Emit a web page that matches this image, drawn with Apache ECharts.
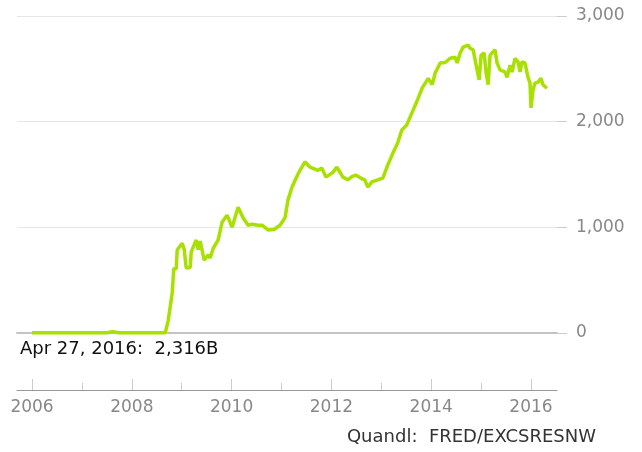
<!DOCTYPE html>
<html>
<head>
<meta charset="utf-8">
<script src="https://cdn.jsdelivr.net/npm/echarts@6/dist/echarts.min.js"></script>
<style>
  html, body { margin: 0; padding: 0; background: #fff; }
  #chart { width: 642px; height: 452px; }
</style>
</head>
<body>
<div id="chart"></div>
<script>
// decimal years and excess reserves (billions)
var years = [2006.00, 2006.50, 2007.00, 2007.50, 2007.62, 2007.75, 2008.00, 2008.40, 2008.67,
  2008.73, 2008.81, 2008.84, 2008.89, 2008.91, 2009.01, 2009.05, 2009.09, 2009.17, 2009.19,
  2009.29, 2009.33, 2009.37, 2009.45, 2009.53, 2009.57, 2009.63, 2009.73, 2009.81, 2009.91,
  2010.01, 2010.13, 2010.23, 2010.33, 2010.41, 2010.53, 2010.61, 2010.73, 2010.85, 2010.97,
  2011.07, 2011.13, 2011.21, 2011.29, 2011.37, 2011.47, 2011.57, 2011.73, 2011.81, 2011.89,
  2012.03, 2012.11, 2012.23, 2012.33, 2012.41, 2012.49, 2012.61, 2012.67, 2012.73, 2012.81,
  2012.93, 2013.03, 2013.13, 2013.23, 2013.33, 2013.41, 2013.51, 2013.62, 2013.72, 2013.82,
  2013.94, 2014.02, 2014.08, 2014.18, 2014.28, 2014.38, 2014.48, 2014.52, 2014.58, 2014.64,
  2014.74, 2014.78, 2014.84, 2014.92, 2014.96, 2015.00, 2015.06, 2015.10, 2015.14, 2015.18,
  2015.28, 2015.32, 2015.38, 2015.48, 2015.52, 2015.58, 2015.62, 2015.68, 2015.74, 2015.78,
  2015.82, 2015.88, 2015.94, 2015.98, 2016.00, 2016.04, 2016.08, 2016.14, 2016.20, 2016.24,
  2016.32];
var reserves = [2, 2, 2, 2, 12, 2, 2, 2, 2,
  120, 380, 609, 609, 785, 850, 790, 615, 620, 765,
  880, 790, 870, 690, 740, 710, 800, 880, 1050, 1115,
  1000, 1190, 1090, 1020, 1030, 1020, 1020, 975, 980, 1020,
  1090, 1260, 1380, 1465, 1540, 1620, 1570, 1540, 1560, 1475,
  1520, 1570, 1475, 1450, 1480, 1495, 1460, 1450, 1380, 1430,
  1450, 1465, 1590, 1700, 1800, 1920, 1970, 2090, 2200, 2320,
  2410, 2350, 2460, 2555, 2560, 2600, 2610, 2555, 2650, 2705,
  2725, 2695, 2680, 2490, 2395, 2630, 2650, 2460, 2350, 2630,
  2680, 2555, 2490, 2470, 2420, 2535, 2470, 2600, 2565, 2470,
  2565, 2555, 2420, 2365, 2130, 2300, 2365, 2375, 2410, 2350,
  2316];
var majorYears = [2006, 2008, 2010, 2012, 2014, 2016];
var minorYears = [2007, 2009, 2011, 2013, 2015];
var latestLabel = 'Apr 27, 2016:  2,316B';
var sourceLabel = 'Quandl:  FRED/EXCSRESNW';

var points = years.map(function (y, i) { return [y, reserves[i]]; });

var chart = echarts.init(document.getElementById('chart'));
var font = 'DejaVu Sans';
var xMin = 2005.699, xMax = 2016.521;

var option = {
  animation: false,
  textStyle: { fontFamily: font },
  grid: { left: 17, right: 85, top: 16, bottom: 119 },
  xAxis: [
    {
      type: 'value', min: xMin, max: xMax, position: 'bottom', offset: 57,
      axisLine: { onZero: false, lineStyle: { color: '#999', width: 1 } },
      axisTick: { inside: true, length: 11, customValues: majorYears, lineStyle: { color: '#ccc' } },
      axisLabel: {
        customValues: majorYears, margin: 9, color: '#888', fontSize: 17, fontFamily: font,
        formatter: function (v) { return String(v); }
      },
      splitLine: { show: false }
    },
    {
      type: 'value', min: xMin, max: xMax, position: 'bottom', offset: 57,
      axisLine: { onZero: false, show: false },
      axisTick: { inside: true, length: 7, customValues: minorYears, lineStyle: { color: '#ccc' } },
      axisLabel: { show: false },
      splitLine: { show: false }
    },
    {
      type: 'value', min: xMin, max: xMax, position: 'bottom',
      axisLine: { onZero: false, lineStyle: { color: '#c4c4c4', width: 2 } },
      axisTick: { show: false },
      axisLabel: { show: false },
      splitLine: { show: false }
    }
  ],
  yAxis: {
    type: 'value', position: 'right', min: 0, max: 3000, interval: 1000,
    axisLine: { show: false },
    axisTick: { show: true, length: 10, lineStyle: { color: '#ccc' } },
    axisLabel: {
      margin: 19, color: '#888', fontSize: 17, fontFamily: font,
      formatter: function (v) { return v.toLocaleString('en-US'); }
    },
    splitLine: { lineStyle: { color: '#e6e6e6', width: 1 } }
  },
  series: [{
    type: 'line',
    xAxisIndex: 0,
    data: points,
    showSymbol: false,
    clip: false,
    lineStyle: { color: '#a8e000', width: 3.5 },
    z: 5
  }],
  graphic: [
    {
      type: 'text', left: 20, top: 340,
      style: { text: latestLabel, fill: '#111', font: '18px "DejaVu Sans"' }
    },
    {
      type: 'text', right: 46, top: 428,
      style: { text: sourceLabel, fill: '#333', font: '18px "DejaVu Sans"' }
    }
  ]
};
chart.setOption(option);
</script>
</body>
</html>
